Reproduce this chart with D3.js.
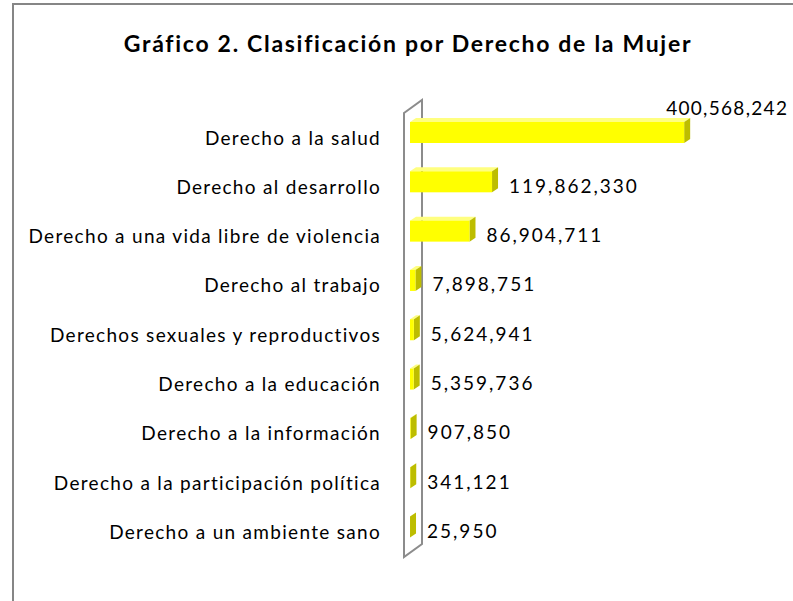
<!DOCTYPE html>
<html>
<head>
<meta charset="UTF-8">
<title>Gráfico 2</title>
<style>
  body { margin: 0; background: #fff; }
  text { font-family: Lato, "Open Sans", sans-serif; fill: #000; }
</style>
</head>
<body>
<svg id="chart" width="793" height="601"></svg>
<script src="https://cdnjs.cloudflare.com/ajax/libs/d3/7.8.5/d3.min.js"></script>
<script>
// data
var categories = [
  "Derecho a la salud",
  "Derecho al desarrollo",
  "Derecho a una vida libre de violencia",
  "Derecho al trabajo",
  "Derechos sexuales y reproductivos",
  "Derecho a la educación",
  "Derecho a la información",
  "Derecho a la participación política",
  "Derecho a un ambiente sano"
];
var values = [400568242, 119862330, 86904711, 7898751, 5624941, 5359736, 907850, 341121, 25950];
var title = "Gráfico 2. Clasificación por Derecho de la Mujer";

var W = 793, H = 601;
var svg = d3.select('#chart');

// chart frame
svg.append('rect').attr('x', 13).attr('y', 4).attr('width', W).attr('height', H)
  .attr('fill', '#fff').attr('stroke', '#868686').attr('stroke-width', 2);

svg.append('text').attr('x', 408).attr('y', 52)
  .attr('text-anchor', 'middle').attr('font-weight', 'bold').attr('font-size', 23)
  .attr('letter-spacing', 1.7)
  .text(title);

// scales
var x = d3.scaleLinear().domain([0, 450000000]).range([410, 718]);
var y = d3.scalePoint().domain(categories).range([132.5, 527]);
var bh = 21, dx = 6, dy = -4;

// back wall of the category axis
var wall = [[404, 113], [422, 100], [422, 544], [404, 557]];
svg.append('polygon').attr('points', wall.join(' '))
  .attr('fill', 'none').attr('stroke', '#8c8c8c').attr('stroke-width', 2);

var rows = categories.map(function (c, i) { return { cat: c, v: values[i], i: i }; });

var g = svg.selectAll('g.bar').data(rows).enter().append('g').attr('class', 'bar');

// top face
g.append('polygon').attr('points', function (d) {
  var x0 = x(0), x1 = x(d.v), t = y(d.cat) - bh / 2;
  return [[x0, t], [x0 + dx, t + dy], [x1 + dx, t + dy], [x1, t]].join(' ');
}).attr('fill', '#ffff80');

// side face
g.append('polygon').attr('points', function (d) {
  var x1 = x(d.v), t = y(d.cat) - bh / 2, b = t + bh;
  return [[x1, t], [x1 + dx, t + dy], [x1 + dx, b + dy], [x1, b]].join(' ');
}).attr('fill', '#bdbd00');

// front face
g.append('rect')
  .attr('x', x(0))
  .attr('y', function (d) { return y(d.cat) - bh / 2; })
  .attr('width', function (d) { return x(d.v) - x(0); })
  .attr('height', bh)
  .attr('fill', '#ffff00');

// category labels
svg.selectAll('text.cat').data(rows).enter().append('text').attr('class', 'cat')
  .attr('x', 381).attr('y', function (d) { return y(d.cat) + 12; })
  .attr('text-anchor', 'end').attr('font-size', 19).attr('letter-spacing', 1.3)
  .text(function (d) { return d.cat; });

// value labels (the longest bar's label sits above its end, as in the original)
var fmt = d3.format(',');
svg.selectAll('text.val').data(rows).enter().append('text').attr('class', 'val')
  .attr('x', function (d) { return d.i === 0 ? x(d.v) + dx - 24 : x(d.v) + dx + 11; })
  .attr('y', function (d) { return d.i === 0 ? y(d.cat) - 18 : y(d.cat) + 11; })
  .attr('font-size', 19)
  .attr('letter-spacing', function (d) { return d.i === 0 ? 1.3 : 2; })
  .text(function (d) { return fmt(d.v); });
</script>
</body>
</html>
